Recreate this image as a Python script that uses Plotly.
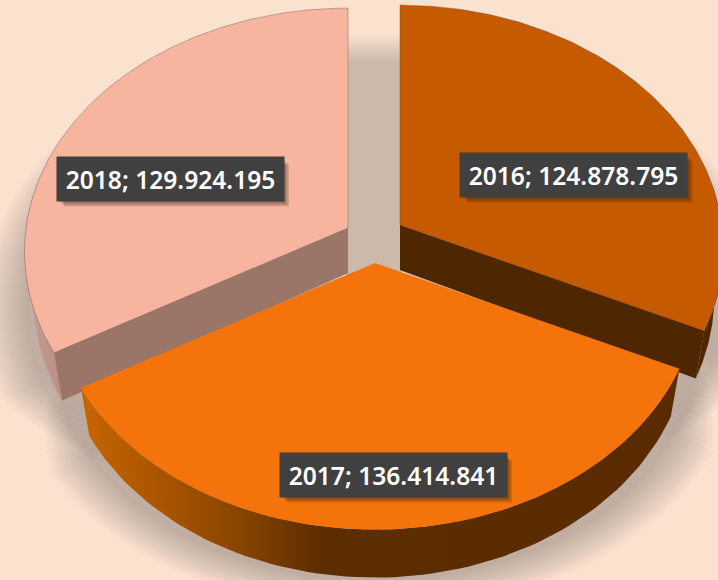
import numpy as np
import plotly.graph_objects as go

# --- data ---
years = ["2016", "2017", "2018"]
values = [124878795, 136414841, 129924195]
labels = ["2016; 124.878.795", "2017; 136.414.841", "2018; 129.924.195"]

# --- styling ---
BG = "#FBE2CF"
TOP_COLORS = {"2016": "#C55A00", "2017": "#F4730A", "2018": "#F7B5A0"}
CUT_COLORS = {"2016": "#4E2600", "2017": "#5A2C00", "2018": "#9B7568"}
WALL_SCALES = {
    "2016": [[0, "#4E2600"], [1, "#4E2600"]],
    "2017": [[0, "#C86500"], [0.26, "#8A4500"], [0.4, "#5C2D00"], [1, "#5A2B00"]],
    "2018": [[0, "#C99E94"], [1, "#B98E84"]],
}
EDGE = {"2016": "rgba(110,70,40,0.4)", "2017": "rgba(0,0,0,0)", "2018": "rgba(120,90,85,0.45)"}
# exploded-pie layout, in the 718x580 picture's axis units
APEX = {"2016": (400, 225), "2017": (375, 263), "2018": (348, 228)}
LABEL_CENTERS = {"2016": (573.5, 175), "2017": (393, 475), "2018": (170, 179)}
RX, RY, PERSP = 322.0, 241.0, 0.096
BOX_W, BOX_H = 225, 42
# how far (degrees) each slice's shadow may run past its ends, per end
SHADOW_EXT = {"2016": (0, 1), "2017": (1, 1), "2018": (1, 0)}


def rim(year, deg):
    """Project a rim point at clockwise angle deg (0 = back) of the tilted disc."""
    a = np.radians(deg)
    X, Y = np.sin(a), np.cos(a)
    w = 1 + PERSP * Y
    ax, ay = APEX[year]
    return ax + RX * X / w, ay - RY * Y / w


def drop(year, x, y):
    """Bottom-face point below a top-face point."""
    ax, ay = APEX[year]
    dy = np.maximum(y - ay, 0)
    return x - 0.028 * (x - ax), y + 48 - 3 * np.exp(-dy / 50)


def poly(x, y, color=None, grad=None, line=None):
    kw = dict(x=x, y=y, mode="lines", fill="toself", hoverinfo="skip", showlegend=False,
              line=dict(color=line or "rgba(0,0,0,0)", width=1))
    if grad is not None:
        kw["fillgradient"] = grad
    else:
        kw["fillcolor"] = color
    return go.Scatter(**kw)


total = sum(values)
spans = {}
start = 0.0
for yr, v in zip(years, values):
    spans[yr] = (start, start + 360.0 * v / total)
    start = spans[yr][1]

fig = go.Figure()

# gap shadow on the floor
fig.add_trace(poly([346, 402, 402, 346], [34, 34, 280, 280],
                   grad=dict(type="vertical", start=34, stop=62,
                             colorscale=[[0, BG], [1, "#CBB9AA"]])))

# soft floor shadows: outer layers are larger but shorter, so the ends fade out
N = 16
for yr in ["2018", "2016", "2017"]:
    s, e = spans[yr]
    ax, ay = APEX[yr]
    ext_s, ext_e = SHADOW_EXT[yr]
    for k in range(N):
        spread = (N - 1 - k) * 1.3 - 4
        deg = np.linspace(s - ext_s * spread, e + ext_e * spread, 90)
        tx, ty = rim(yr, deg)
        bx, by = drop(yr, tx, ty)
        g = 1.0 + 0.009 * k
        t = np.clip((by - 5) / 525, 0, 1)
        sx = ax + (bx - ax) * (1 + 0.05 * t) * g
        sy = ay + 45 + (by - ay - 45) * (1 + 0.0075 * k) + 4
        fig.add_trace(poly(np.r_[ax, sx], np.r_[ay + 45, sy], color="rgba(100,88,95,0.024)"))

# slices, back to front
for yr in ["2018", "2016", "2017"]:
    s, e = spans[yr]
    ax, ay = APEX[yr]
    # outer wall
    if yr == "2016":
        w0, w1 = 85, e
    elif yr == "2018":
        w0, w1 = s, 285
    else:
        w0, w1 = s, e
    deg = np.linspace(w0, w1, 80)
    tx, ty = rim(yr, deg)
    bx, by = drop(yr, tx, ty)
    fig.add_trace(poly(np.r_[tx, bx[::-1]], np.r_[ty, by[::-1]],
                       grad=dict(type="horizontal", colorscale=WALL_SCALES[yr])))
    # cut face
    if yr != "2017":
        cut = e if yr == "2016" else s
        cx, cy = rim(yr, cut)
        bcx, bcy = drop(yr, cx, cy)
        bax, bay = drop(yr, ax, ay)
        fig.add_trace(poly([ax, cx, bcx, bax], [ay, cy, bcy, bay], color=CUT_COLORS[yr]))
    # top face
    deg = np.linspace(s, e, 160)
    tx, ty = rim(yr, deg)
    fig.add_trace(poly(np.r_[ax, tx, ax], np.r_[ay, ty, ay], color=TOP_COLORS[yr], line=EDGE[yr]))

# label boxes: soft shadows as shapes, text + box as annotations
for yr, lab in zip(years, labels):
    cx, cy = LABEL_CENTERS[yr]
    for k in range(4):
        off = 2 + k * 1.5
        fig.add_shape(type="rect", x0=cx - BOX_W / 2 + off, x1=cx + BOX_W / 2 + off,
                      y0=cy - BOX_H / 2 + off, y1=cy + BOX_H / 2 + off,
                      fillcolor="rgba(40,25,15,0.16)", line_width=0, layer="above")
    fig.add_annotation(x=cx, y=cy, text=lab, showarrow=False, width=BOX_W, height=BOX_H,
                       bgcolor="#404040", align="center", valign="middle",
                       font=dict(family="Noto Sans", size=24.6, color="white", weight=600))

fig.update_layout(
    width=718, height=580, margin=dict(l=0, r=0, t=0, b=0),
    paper_bgcolor=BG, plot_bgcolor=BG, showlegend=False,
    xaxis=dict(range=[0, 718], visible=False, fixedrange=True),
    yaxis=dict(range=[580, 0], visible=False, fixedrange=True),
)
fig.write_html("out.html", config={"displayModeBar": False},
               post_script="document.body.style.margin='0';document.body.style.overflow='hidden';"
                           "document.body.style.background='" + BG + "';")
